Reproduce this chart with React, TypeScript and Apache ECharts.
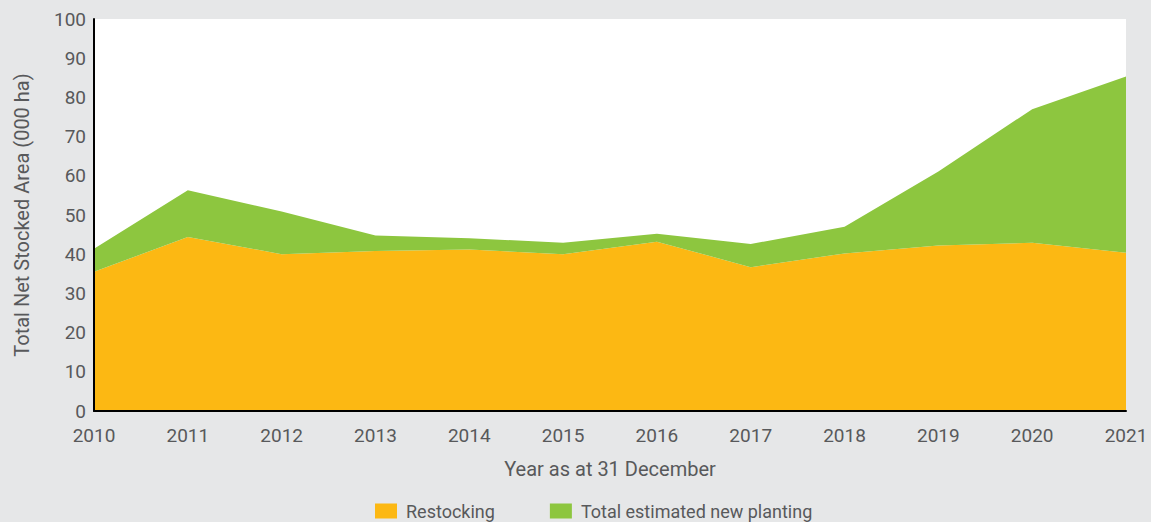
import React, { useEffect, useRef } from "react";
import * as echarts from "echarts";

const years = ["2010", "2011", "2012", "2013", "2014", "2015", "2016", "2017", "2018", "2019", "2020", "2021"];
const restocking = [35.5, 44.4, 40.0, 40.8, 41.2, 40.0, 43.2, 36.7, 40.2, 42.2, 42.9, 40.4];
const newPlanting = [5.9, 11.9, 10.9, 4.0, 2.9, 2.9, 2.0, 5.9, 6.8, 18.9, 34.1, 44.9];

const FONT = "Roboto";
const TXT = "#58595b";

export default function App() {
  const ref = useRef<HTMLDivElement>(null);
  useEffect(() => {
    document.body.style.margin = "0";
    const chart = echarts.init(ref.current!, null, { renderer: "svg" });
    chart.setOption({
      animation: false,
      backgroundColor: "#e6e7e8",
      textStyle: { fontFamily: FONT },
      grid: {
        left: 94,
        right: 25,
        top: 19,
        bottom: 111,
        show: true,
        backgroundColor: "#ffffff",
        borderWidth: 0,
      },
      legend: {
        top: 497,
        left: 370,
        itemWidth: 22,
        itemHeight: 15,
        itemGap: 55,
        icon: "rect",
        textStyle: { fontSize: 18, color: TXT, fontFamily: FONT, padding: [0, 0, 0, 4] },
        data: ["Restocking", "Total estimated new planting"],
      },
      xAxis: {
        type: "category",
        data: years,
        boundaryGap: false,
        axisLine: { lineStyle: { color: "#000000", width: 2 } },
        axisTick: { show: false },
        axisLabel: { fontSize: 19, color: TXT, margin: 15, fontFamily: FONT },
        name: "Year as at 31 December",
        nameLocation: "middle",
        nameGap: 48,
        nameTextStyle: { fontSize: 20, color: TXT, fontFamily: FONT },
        z: 10,
      },
      yAxis: {
        type: "value",
        min: 0,
        max: 100,
        interval: 10,
        axisLine: { show: true, lineStyle: { color: "#000000", width: 2 } },
        axisTick: { show: false },
        splitLine: { show: false },
        axisLabel: { fontSize: 19, color: TXT, margin: 8, fontFamily: FONT },
        name: "Total Net Stocked Area (000 ha)",
        nameLocation: "middle",
        nameGap: 62,
        nameTextStyle: { fontSize: 20, color: TXT, fontFamily: FONT },
        z: 10,
      },
      series: [
        {
          name: "Restocking",
          type: "line",
          stack: "total",
          data: restocking,
          symbol: "none",
          lineStyle: { width: 0 },
          itemStyle: { color: "#fcb813" },
          areaStyle: { color: "#fcb813", opacity: 1 },
        },
        {
          name: "Total estimated new planting",
          type: "line",
          stack: "total",
          data: newPlanting,
          symbol: "none",
          lineStyle: { width: 0 },
          itemStyle: { color: "#8dc63f" },
          areaStyle: { color: "#8dc63f", opacity: 1 },
        },
      ],
    });
    return () => chart.dispose();
  }, []);
  return <div ref={ref} style={{ width: 1151, height: 522 }} />;
}
